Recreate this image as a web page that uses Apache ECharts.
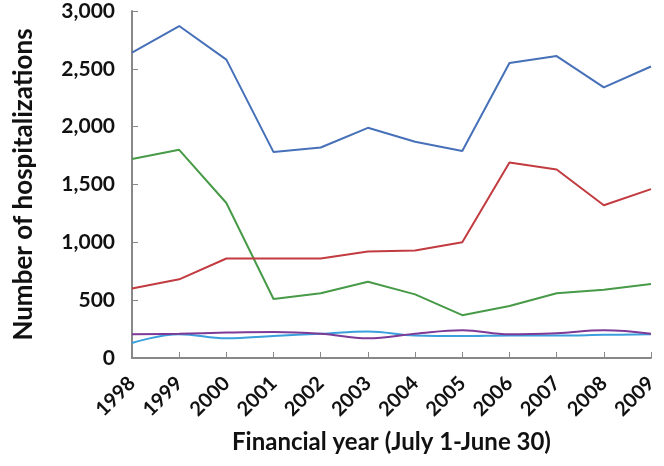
<!DOCTYPE html>
<html>
<head>
<meta charset="utf-8">
<script src="https://cdn.jsdelivr.net/npm/echarts@6/dist/echarts.min.js"></script>
<style>html,body{margin:0;padding:0;background:#fff}#c{width:664px;height:466px}</style>
</head>
<body>
<div id="c"></div>
<script>
const years = ['1998','1999','2000','2001','2002','2003','2004','2005','2006','2007','2008','2009'];
const blueSeries   = [2640, 2870, 2580, 1780, 1820, 1990, 1870, 1790, 2550, 2610, 2340, 2520];
const greenSeries  = [1720, 1800, 1340, 510, 560, 660, 550, 370, 450, 560, 590, 640];
const redSeries    = [600, 680, 860, 860, 860, 920, 930, 1000, 1690, 1630, 1320, 1460];
const purpleSeries = [205, 210, 220, 225, 210, 170, 210, 240, 205, 215, 240, 210];
const cyanSeries   = [130, 205, 170, 190, 210, 230, 195, 190, 195, 195, 200, 205];
const yTicks = [0, 500, 1000, 1500, 2000, 2500, 3000];

const font = 'Lato, "DejaVu Sans", sans-serif';
function line(data, color, smooth) {
  return { type: 'line', data: data, symbol: 'none', smooth: smooth ? 0.4 : false,
    lineStyle: { color: color, width: 2 }, itemStyle: { color: color } };
}
const chart = echarts.init(document.getElementById('c'), null, { renderer: 'canvas' });
chart.setOption({
  animation: false,
  grid: { left: 132, right: 13, top: 11, bottom: 108 },
  xAxis: {
    type: 'category', data: years, boundaryGap: false,
    name: 'Financial year (July 1-June 30)', nameLocation: 'middle', nameGap: 72,
    nameTextStyle: { fontFamily: font, fontWeight: 'bold', fontSize: 24, color: '#111' },
    axisLine: { lineStyle: { color: '#888', width: 2 } },
    axisTick: { inside: true, length: 6, lineStyle: { color: '#888' } },
    axisLabel: { rotate: 45, fontFamily: font, fontWeight: 'bold', fontSize: 20, color: '#111', margin: 22 }
  },
  yAxis: {
    type: 'value', min: 0, max: 3000, interval: 500,
    name: 'Number of hospitalizations', nameLocation: 'middle', nameGap: 95,
    nameTextStyle: { fontFamily: font, fontWeight: 'bold', fontSize: 26, color: '#111' },
    axisLine: { show: true, lineStyle: { color: '#888', width: 2 } },
    axisTick: { show: true, inside: true, length: 6, lineStyle: { color: '#888' } },
    splitLine: { show: false },
    axisLabel: { fontFamily: font, fontWeight: 'bold', fontSize: 21, color: '#111', margin: 17,
      formatter: v => yTicks.includes(v) ? v.toLocaleString('en-US') : '' }
  },
  series: [
    line(cyanSeries, '#3a9fdc', true),
    line(purpleSeries, '#7d3a96', true),
    line(greenSeries, '#479a47', false),
    line(redSeries, '#c23b40', false),
    line(blueSeries, '#4670b8', false)
  ]
});
</script>
</body>
</html>
